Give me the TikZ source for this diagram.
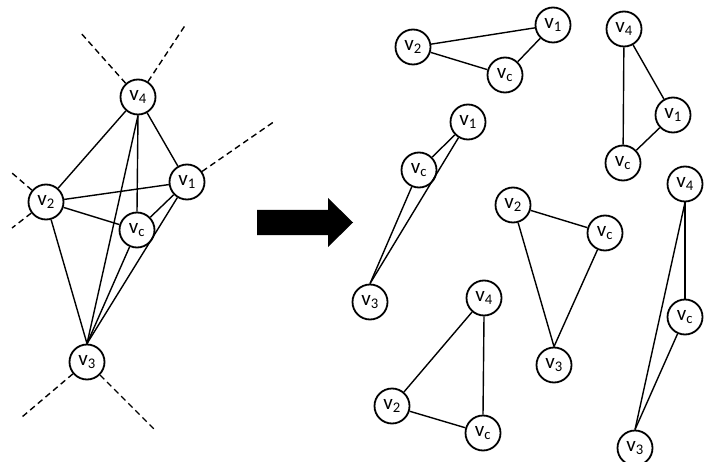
\documentclass[tikz,border=0pt]{standalone}
\usepackage{fontspec}
\setmainfont{Carlito}
\usepackage{tikz}
\usetikzlibrary{positioning}

\newcommand{\vlab}[1]{v\textsubscript{#1}}

\begin{document}
\begin{tikzpicture}[
  x=1pt, y=-1pt,
  vert/.style={circle, draw, line width=1.8pt, fill=white, minimum size=35pt, inner sep=0pt, font=\fontsize{21}{23}\selectfont},
  edge/.style={draw, line width=1.4pt},
  guide/.style={draw, line width=1.4pt, dash pattern=on 6pt off 4pt}
]
  \useasboundingbox (0,0) rectangle (711,462);

  % left graph
  \node[vert] (L4) at (138,97) {\vlab{4}};
  \node[vert] (L1) at (187,182) {\vlab{1}};
  \node[vert] (L2) at (46,202) {\vlab{2}};
  \node[vert] (Lc) at (137,230) {\vlab{c}};
  \node[vert] (L3) at (87,362) {\vlab{3}};

  \draw[edge] (L4) -- (L2);
  \draw[edge] (L4) -- (L1);
  \draw[edge] (L4.south) -- (Lc.north);
  \draw[edge] (L4.south) -- (L3.north);
  \draw[edge] (L2) -- (L1);
  \draw[edge] (L2) -- (Lc);
  \draw[edge] (L2) -- (L3.north);
  \draw[edge] (L1) -- (Lc);
  \draw[edge] (L1) -- (L3.north);
  \draw[edge] (Lc) -- (L3.north);

  % cut lines
  \coordinate (g4a) at (80,32);
  \coordinate (g4b) at (186,24);
  \coordinate (g1) at (275,121);
  \coordinate (g2a) at (12,173);
  \coordinate (g2b) at (12,228);
  \coordinate (g3a) at (22,417);
  \coordinate (g3b) at (155,430);
  \draw[guide] (L4.132) -- (g4a);
  \draw[guide] (L4.57) -- (g4b);
  \draw[guide] (L1.35) -- (g1);
  \draw[guide] (L2.140) -- (g2a);
  \draw[guide] (L2.217) -- (g2b);
  \draw[guide] (L3.220) -- (g3a);
  \draw[guide] (L3.315) -- (g3b);

  % arrow
  \fill (257,210) -- (328,210) -- (328,198) -- (353,222.5) -- (328,247) -- (328,235) -- (257,235) -- cycle;

  % pieces
  \node[vert] (A2) at (413,47) {\vlab{2}};
  \node[vert] (A1) at (553,25) {\vlab{1}};
  \node[vert] (Ac) at (505,75) {\vlab{c}};
  \draw[edge] (A2) -- (A1);
  \draw[edge] (A2) -- (Ac);
  \draw[edge] (Ac) -- (A1);

  \node[vert] (B4) at (624,29) {\vlab{4}};
  \node[vert] (B1) at (673,115) {\vlab{1}};
  \node[vert] (Bc) at (623,163) {\vlab{c}};
  \draw[edge] (B4) -- (Bc);
  \draw[edge] (B4) -- (B1);
  \draw[edge] (B1) -- (Bc);

  \node[vert] (C1) at (468,122) {\vlab{1}};
  \node[vert] (Cc) at (419,170) {\vlab{c}};
  \node[vert] (C3) at (370,302) {\vlab{3}};
  \draw[edge] (C1) -- (Cc);
  \draw[edge] (Cc) -- (C3.north);
  \draw[edge] (C1) -- (C3.north);

  \node[vert] (D2) at (513,205) {\vlab{2}};
  \node[vert] (Dc) at (605,233) {\vlab{c}};
  \node[vert] (D3) at (554,365) {\vlab{3}};
  \draw[edge] (D2) -- (Dc);
  \draw[edge] (D2) -- (D3.north);
  \draw[edge] (Dc) -- (D3.north);

  \node[vert] (E4) at (484,298) {\vlab{4}};
  \node[vert] (E2) at (392,406) {\vlab{2}};
  \node[vert] (Ec) at (483,433) {\vlab{c}};
  \draw[edge] (E4) -- (E2);
  \draw[edge] (E4.south) -- (Ec.north);
  \draw[edge] (E2) -- (Ec);

  \node[vert] (F4) at (685,184) {\vlab{4}};
  \node[vert] (Fc) at (685,317) {\vlab{c}};
  \node[vert] (F3) at (635,448) {\vlab{3}};
  \draw[edge] (F4.south) -- (Fc.north);
  \draw[edge] (F4.south) -- (F3.north);
  \draw[edge] (Fc) -- (F3.north);
\end{tikzpicture}
\end{document}
